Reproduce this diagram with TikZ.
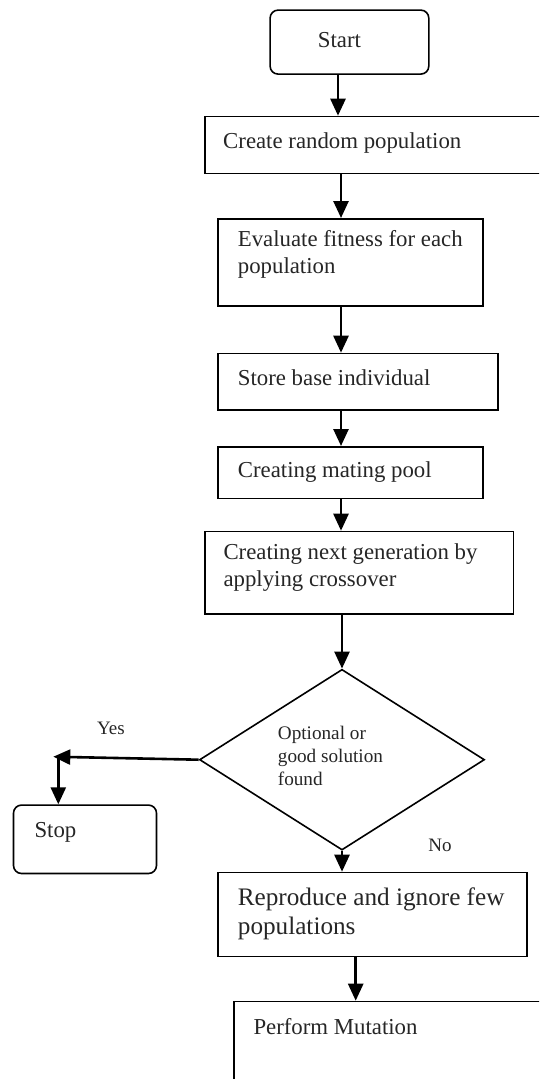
\documentclass[tikz,border=0pt]{standalone}
\usepackage{fontspec}
\setmainfont{Liberation Serif}
\usetikzlibrary{arrows.meta,shapes.geometric}
\begin{document}
\begin{tikzpicture}[x=1pt,y=-1pt,
  box/.style={draw, line width=1.6pt, inner sep=0pt, anchor=north west},
  rbox/.style={box, rounded corners=8pt},
  txt/.style={anchor=west, inner sep=0pt, align=left, text=black!85,
    font=\fontsize{22.8}{27.4}\selectfont},
  bigtxt/.style={txt, font=\fontsize{25.2}{29.3}\selectfont},
  smalltxt/.style={txt, font=\fontsize{19.2}{22.8}\selectfont},
  lbl/.style={inner sep=0pt, text=black!85, font=\fontsize{19}{22}\selectfont},
  flow/.style={line width=2.6pt, -{Triangle[length=17pt,width=15pt]}}]
\useasboundingbox (0,0) rectangle (539,1079);
\clip (0,0) rectangle (539,1079);
\fill[white] (0,0) rectangle (539,1079);

% boxes
\node[rbox, minimum width=158.7pt, minimum height=64pt] (start) at (269.3,9.3) {};
\node[txt] (tstart) at (317.7,40) {Start};

\node[box, minimum width=350pt, minimum height=57pt] (create) at (204,115.7) {};
\node[txt] (tcreate) at (223,143.5) {Create random population};

\node[box, minimum width=264.7pt, minimum height=87pt] (eval) at (217.3,218) {};
\node[txt] (teval) at (237.7,254.5) {Evaluate fitness for each\\population};

\node[box, minimum width=280pt, minimum height=56.6pt] (store) at (217.3,352.7) {};
\node[txt] (tstore) at (237.7,378) {Store base individual};

\node[box, minimum width=264.7pt, minimum height=51.7pt] (mating) at (217.3,446) {};
\node[txt] (tmating) at (237.7,472) {Creating mating pool};

\node[box, minimum width=308.7pt, minimum height=82.6pt] (cross) at (204,530.7) {};
\node[txt] (tcross) at (223.3,567.5) {Creating next generation by\\applying crossover};

\node[draw, diamond, line width=1.6pt, inner sep=0pt,
      minimum width=285pt, minimum height=180.7pt] (dec) at (342,759.7) {};
\node[smalltxt] (tdec) at (277.7,756) {Optional or\\good solution\\found};

\node[rbox, minimum width=143pt, minimum height=68.4pt] (stop) at (12.7,804.3) {};
\node[txt] (tstop) at (34.3,832.5) {Stop};

\node[box, minimum width=308.7pt, minimum height=84pt] (repro) at (217.3,871.7) {};
\node[bigtxt] (trepro) at (237.7,914) {Reproduce and ignore few\\populations};

\node[box, minimum width=330pt, minimum height=120pt] (mut) at (233.3,1000.7) {};
\node[txt] (tmut) at (253.3,1027) {Perform Mutation};

% labels
\node[lbl] (yes) at (111,728.5) {Yes};
\node[lbl] (no) at (440,845) {No};

% connectors
\coordinate (ytip) at (53.3,756.7);
\coordinate (ycorner) at (58.3,757.5);
\draw[flow] (start.south -| 338,0) -- (create.north -| 338,0);
\draw[flow] (create.south -| 341,0) -- (eval.north -| 341,0);
\draw[flow] (eval.south -| 341,0) -- (store.north -| 341,0);
\draw[flow] (store.south -| 341,0) -- (mating.north -| 341,0);
\draw[flow] (mating.south -| 341,0) -- (cross.north -| 341,0);
\draw[flow] (cross.south -| dec.north) -- (dec.north);
\draw[flow] (dec.west) -- (ytip);
\draw[flow] (ycorner) -- (stop.north -| ycorner);
\draw[flow] (dec.south) -- (repro.north -| dec.south);
\draw[flow] (repro.south -| 355.7,0) -- (mut.north -| 355.7,0);
\end{tikzpicture}
\end{document}
